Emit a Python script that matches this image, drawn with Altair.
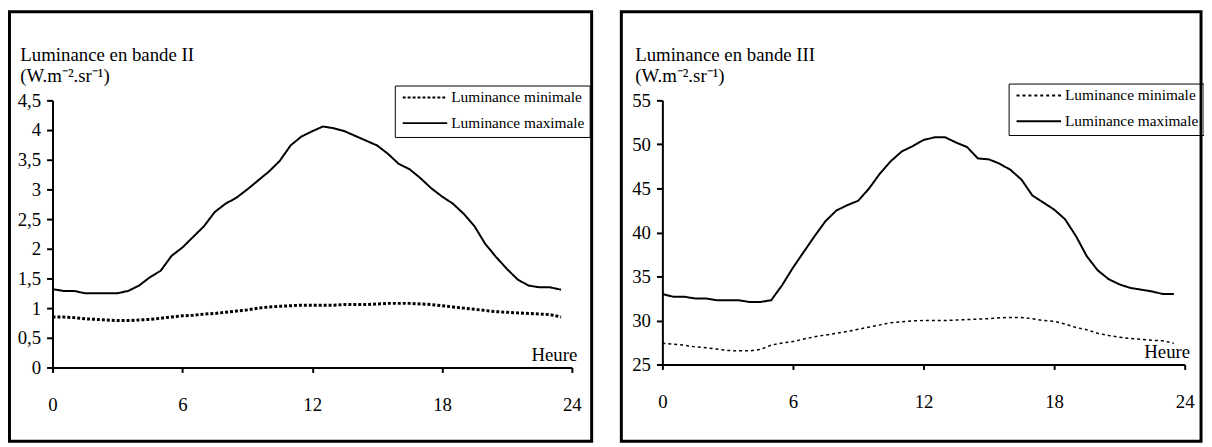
import altair as alt
import pandas as pd

# ---------------- data ----------------
hours = [i * 0.5 for i in range(48)]  # 0 .. 23.5 h

b2_min = [0.85, 0.85, 0.84, 0.82, 0.81, 0.80, 0.79, 0.79, 0.80, 0.81,
          0.83, 0.85, 0.87, 0.88, 0.90, 0.91, 0.93, 0.95, 0.97, 1.00,
          1.02, 1.03, 1.04, 1.05, 1.05, 1.05, 1.05, 1.06, 1.06, 1.06,
          1.07, 1.08, 1.08, 1.08, 1.07, 1.06, 1.04, 1.02, 1.00, 0.98,
          0.96, 0.94, 0.93, 0.92, 0.91, 0.90, 0.89, 0.85]
b2_max = [1.32, 1.29, 1.29, 1.25, 1.25, 1.25, 1.25, 1.29, 1.38, 1.52,
          1.63, 1.88, 2.02, 2.20, 2.38, 2.62, 2.76, 2.86, 3.00, 3.15,
          3.30, 3.48, 3.74, 3.89, 3.98, 4.06, 4.03, 3.98, 3.90, 3.82,
          3.74, 3.60, 3.43, 3.34, 3.19, 3.02, 2.88, 2.76, 2.59, 2.38,
          2.08, 1.86, 1.66, 1.48, 1.38, 1.35, 1.35, 1.31]
b3_min = [27.4, 27.3, 27.2, 27.0, 26.9, 26.75, 26.6, 26.55, 26.55, 26.7,
          27.2, 27.45, 27.6, 27.9, 28.15, 28.35, 28.55, 28.75, 29.0, 29.25,
          29.5, 29.75, 29.85, 29.95, 30.0, 30.0, 30.0, 30.05, 30.1, 30.15,
          30.2, 30.3, 30.35, 30.35, 30.2, 30.0, 29.9, 29.6, 29.2, 28.95,
          28.55, 28.3, 28.1, 27.95, 27.85, 27.75, 27.7, 27.4]
b3_max = [33.0, 32.7, 32.7, 32.5, 32.5, 32.3, 32.3, 32.3, 32.1, 32.1,
          32.3, 34.0, 36.0, 37.8, 39.6, 41.3, 42.5, 43.1, 43.6, 45.0,
          46.7, 48.1, 49.2, 49.8, 50.5, 50.8, 50.8, 50.2, 49.7, 48.4,
          48.3, 47.8, 47.1, 46.0, 44.2, 43.4, 42.6, 41.5, 39.6, 37.3,
          35.7, 34.7, 34.1, 33.7, 33.5, 33.3, 33.0, 33.0]

series = ["Luminance minimale", "Luminance maximale"]
x_ticks = [0, 6, 12, 18, 24]
b2_ticks = [0, 0.5, 1, 1.5, 2, 2.5, 3, 3.5, 4, 4.5]
b3_ticks = [25, 30, 35, 40, 45, 50, 55]
unit = "(W.m\u207b\u00b2.sr\u207b\u00b9)"

FONT = "Liberation Serif"


def panel(vmin, vmax, ydom, yticks, ytitle, w, h, tx, ty, frame, leg_xy, min_dash, min_width):
    df = pd.DataFrame({
        "heure": hours + hours,
        "val": vmin + vmax,
        "serie": [series[0]] * len(hours) + [series[1]] * len(hours),
    })
    base = alt.Chart(df)
    x = alt.X("heure:Q",
              scale=alt.Scale(domain=[0, 24], nice=False, zero=False),
              axis=alt.Axis(values=x_ticks, title="Heure", titleX=w + 5, titleY=-7,
                            titleAlign="right", titleBaseline="alphabetic", titleAnchor="end",
                            tickSize=5, labelPadding=23, labelFlush=False))
    y = alt.Y("val:Q",
              scale=alt.Scale(domain=ydom, nice=False, zero=False),
              axis=alt.Axis(values=yticks, title=ytitle, titleAngle=0, titleAlign="left",
                            titleBaseline="alphabetic", titleX=tx, titleY=ty, titleLineHeight=21,
                            tickSize=6, labelPadding=6,
                            labelExpr="replace('' + datum.value, '.', ',')"))
    dash = alt.StrokeDash("serie:N",
                          scale=alt.Scale(domain=series, range=[min_dash, [1, 0]]),
                          legend=alt.Legend(orient="none", legendX=leg_xy[0], legendY=leg_xy[1],
                                            title=None, symbolType="stroke", symbolSize=2025,
                                            symbolStrokeWidth=2, symbolStrokeColor="black",
                                            clipHeight=14, rowPadding=10, padding=5,
                                            symbolOffset=2, labelOffset=3,
                                            strokeColor="black",
                                            labelFont=FONT, labelFontSize=15.5, labelColor="black"))
    lmin = base.transform_filter(alt.datum.serie == series[0]).mark_line(
        color="black", strokeWidth=min_width).encode(x=x, y=y, strokeDash=dash)
    lmax = base.transform_filter(alt.datum.serie == series[1]).mark_line(
        color="black", strokeWidth=2).encode(x=x, y=y, strokeDash=dash)
    box = alt.Chart(alt.Data(values=[{"k": 1}])).mark_rect(
        filled=False, color="black", strokeWidth=3).encode(
        x=alt.value(frame[0]), x2=alt.value(frame[1]),
        y=alt.value(frame[2]), y2=alt.value(frame[3]))
    return alt.layer(lmin, lmax, box).properties(width=w, height=h)


left = panel(b2_min, b2_max, [0, 4.5], b2_ticks, ["Luminance en bande II", unit],
             525, 270, -33, -40, [-43.5, 545, -89.5, 344.5], [346, -15], [3, 2], 3)
right = panel(b3_min, b3_max, [25, 55], b3_ticks, ["Luminance en bande III", unit],
              528, 267, -28, -40, [-41.5, 544.5, -89.5, 344.5], [350, -17], [3, 3], 1.5)

chart = alt.hconcat(left, right, spacing=26.5).resolve_scale(
    x="independent", y="independent", strokeDash="independent"
).resolve_legend(strokeDash="independent").properties(
    padding=0, background="white"
).configure_view(stroke=None).configure_axis(
    grid=False, domainColor="black", domainWidth=2, tickColor="black", tickWidth=2,
    labelFont=FONT, labelFontSize=19, labelColor="black",
    titleFont=FONT, titleFontSize=19, titleFontWeight="normal", titleColor="black"
)

chart.save("out.html", embed_options={"renderer": "svg", "actions": False})
